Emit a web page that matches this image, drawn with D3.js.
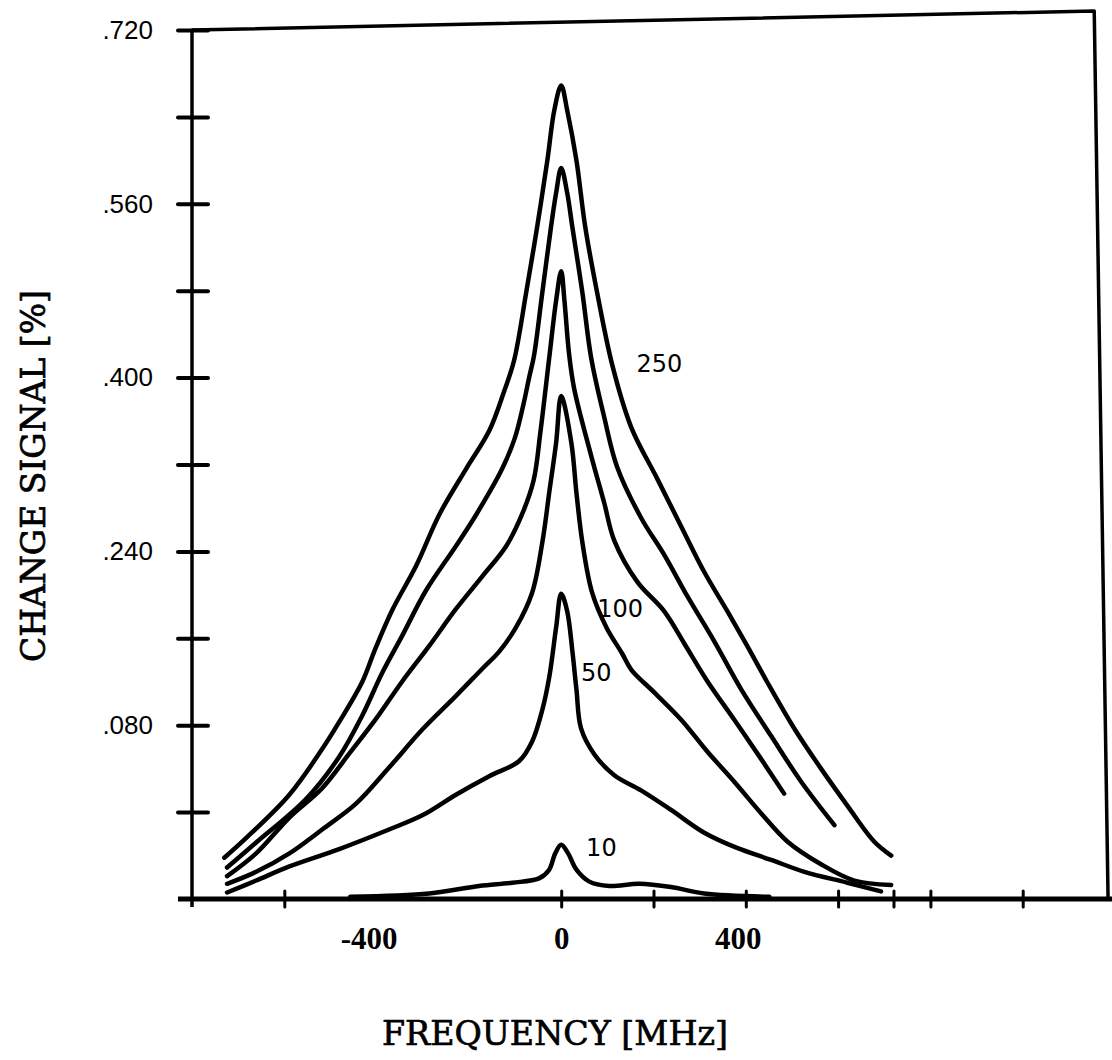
<!DOCTYPE html>
<html>
<head>
<meta charset="utf-8">
<script src="https://cdn.jsdelivr.net/npm/d3@7"></script>
<style>
  html, body { margin: 0; padding: 0; background: #fff; }
  svg { display: block; }
</style>
</head>
<body>
<div id="chart"></div>
<script>
// change signal [%] vs frequency [MHz], one trace per power level
const curve250 = [[-730,-0.042],[-683,-0.024],[-589,0.016],[-518,0.058],[-481,0.083],[-431,0.120],[-405,0.148],[-366,0.186],[-314,0.227],[-264,0.274],[-206,0.316],[-156,0.351],[-124,0.387],[-102,0.416],[-76,0.478],[-52,0.539],[-30,0.600],[-15,0.646],[0,0.669],[13,0.646],[33,0.600],[52,0.539],[78,0.478],[111,0.411],[152,0.354],[208,0.307],[260,0.263],[310,0.221],[360,0.185],[403,0.153],[446,0.120],[505,0.077],[563,0.040],[620,0.006],[678,-0.027],[715,-0.040]];
const curve200 = [[-724,-0.051],[-661,-0.028],[-553,0.012],[-481,0.051],[-431,0.089],[-388,0.128],[-345,0.162],[-293,0.204],[-228,0.245],[-184,0.274],[-128,0.316],[-100,0.345],[-82,0.375],[-69,0.401],[-59,0.420],[-41,0.478],[-22,0.539],[-11,0.570],[0,0.593],[13,0.570],[24,0.539],[46,0.478],[65,0.418],[93,0.364],[121,0.318],[173,0.271],[223,0.237],[273,0.199],[332,0.157],[390,0.113],[455,0.070],[520,0.028],[592,-0.012]];
const curve150 = [[-724,-0.059],[-661,-0.038],[-589,-0.005],[-518,0.022],[-459,0.054],[-401,0.086],[-345,0.120],[-286,0.153],[-228,0.187],[-171,0.217],[-119,0.245],[-85,0.274],[-60,0.305],[-45,0.350],[-26,0.418],[-11,0.471],[0,0.498],[7,0.471],[17,0.422],[28,0.390],[65,0.328],[93,0.285],[115,0.250],[165,0.212],[223,0.185],[267,0.155],[316,0.121],[375,0.085],[433,0.049],[483,0.017]];
const curve100 = [[-724,-0.066],[-661,-0.055],[-589,-0.038],[-518,-0.016],[-444,0.008],[-373,0.041],[-301,0.076],[-228,0.107],[-171,0.132],[-134,0.148],[-98,0.170],[-63,0.202],[-41,0.248],[-26,0.294],[-11,0.340],[0,0.383],[22,0.340],[33,0.294],[46,0.248],[67,0.202],[98,0.170],[132,0.146],[152,0.131],[202,0.110],[260,0.085],[316,0.056],[375,0.028],[433,-0.001],[490,-0.027],[563,-0.048],[635,-0.063],[715,-0.067]];
const curve50 = [[-724,-0.074],[-661,-0.063],[-589,-0.050],[-481,-0.034],[-373,-0.016],[-301,-0.003],[-228,0.016],[-156,0.033],[-91,0.047],[-63,0.065],[-41,0.094],[-26,0.124],[-11,0.170],[0,0.201],[13,0.185],[24,0.149],[33,0.113],[43,0.077],[72,0.053],[115,0.034],[173,0.020],[238,0.002],[310,-0.019],[381,-0.033],[455,-0.044],[527,-0.055],[620,-0.065],[693,-0.073]];
const curve10 = [[-457,-0.078],[-286,-0.075],[-178,-0.068],[-106,-0.065],[-48,-0.061],[-26,-0.053],[-13,-0.038],[0,-0.030],[15,-0.038],[33,-0.053],[61,-0.064],[104,-0.068],[169,-0.066],[238,-0.069],[310,-0.075],[451,-0.078]];

// curve labels and where they sit (MHz, %)
const curveLabels = ['250', '100', '50', '10'];
const labelAt = [[163, 0.405], [78, 0.180], [43, 0.121], [54, -0.040]];

const yTicks = [-0.08, 0, 0.08, 0.16, 0.24, 0.32, 0.40, 0.48, 0.56, 0.64, 0.72];
const yLabelled = [0.72, 0.56, 0.40, 0.24, 0.08];
const xTicks = [-600, 0, 200, 400, 600, 720, 800, 1000];
const xLabelled = [-400, 0, 400];

const W = 1112, H = 1060;
const svg = d3.select('#chart').append('svg').attr('width', W).attr('height', H);
svg.append('rect').attr('width', W).attr('height', H).attr('fill', '#fff');

const x = d3.scaleLinear().domain([-800, 1200]).range([192, 1115]);
const y = d3.scaleLinear().domain([-0.08, 0.72]).range([899, 30]);

// frame (scan is slightly skewed)
svg.append('path')
  .attr('d', `M${x(-800)},${y(0.72)} L${x(1155)},${y(0.7375)} L${x(1185)},${y(-0.08)}`)
  .attr('fill', 'none').attr('stroke', '#000').attr('stroke-width', 3.5).attr('stroke-linejoin', 'round');

// y axis: ticks cross the line, so draw both sides
const fmtY = d => yLabelled.some(v => Math.abs(v - d) < 1e-9) ? '.' + d3.format('.3f')(d).split('.')[1] : '';
const gyL = svg.append('g').attr('transform', `translate(${x(-800)},0)`)
  .call(d3.axisLeft(y).tickValues(yTicks).tickSize(14).tickPadding(25).tickFormat(fmtY));
const gyR = svg.append('g').attr('transform', `translate(${x(-800)},0)`)
  .call(d3.axisRight(y).tickValues(yTicks.filter(v => v > -0.08)).tickSize(16).tickFormat(''));
[gyL, gyR].forEach(g => {
  g.select('.domain').remove();
  g.selectAll('.tick line').attr('stroke', '#000').attr('stroke-width', 4).attr('stroke-linecap', 'round');
});
gyL.select('.tick line').remove();
gyL.selectAll('.tick text').attr('fill', '#000')
  .attr('font-family', '"Liberation Sans", Arial, sans-serif').attr('font-size', 26);

svg.append('line')
  .attr('x1', x(-800)).attr('x2', x(-800)).attr('y1', y(0.72)).attr('y2', y(-0.08) + 8)
  .attr('stroke', '#000').attr('stroke-width', 3.5);

// x axis
const gxB = svg.append('g').attr('transform', `translate(0,${y(-0.08)})`)
  .call(d3.axisBottom(x).tickValues(xTicks).tickSize(8).tickFormat(''));
const gxT = svg.append('g').attr('transform', `translate(0,${y(-0.08)})`)
  .call(d3.axisTop(x).tickValues(xTicks).tickSize(8).tickFormat(''));
[gxB, gxT].forEach(g => {
  g.select('.domain').remove();
  g.selectAll('.tick line').attr('stroke', '#000').attr('stroke-width', 3).attr('stroke-linecap', 'round');
});
const gxL = svg.append('g').attr('transform', `translate(0,${y(-0.08)})`)
  .call(d3.axisBottom(x).tickValues(xLabelled).tickSize(0).tickPadding(28).tickFormat(d => String(d)));
gxL.select('.domain').remove();
gxL.selectAll('.tick text').attr('fill', '#000')
  .attr('font-family', '"Liberation Serif", "Times New Roman", serif').attr('font-weight', 'bold')
  .attr('font-size', 31).attr('dx', d => d === 0 ? 0 : -8);

svg.append('line')
  .attr('x1', x(-800) - 14).attr('x2', W).attr('y1', y(-0.08)).attr('y2', y(-0.08))
  .attr('stroke', '#000').attr('stroke-width', 5);

// traces
const series = [curve250, curve200, curve150, curve100, curve50, curve10];
const line = d3.line().x(d => x(d[0])).y(d => y(d[1])).curve(d3.curveCatmullRom.alpha(0.5));
svg.append('g').selectAll('path').data(series).join('path')
  .attr('d', line)
  .attr('fill', 'none').attr('stroke', '#000').attr('stroke-width', 4.5)
  .attr('stroke-linecap', 'round').attr('stroke-linejoin', 'round');

svg.append('g').selectAll('text').data(curveLabels).join('text')
  .attr('x', (d, i) => x(labelAt[i][0])).attr('y', (d, i) => y(labelAt[i][1]))
  .attr('font-family', '"DejaVu Sans", Verdana, sans-serif').attr('font-size', 24)
  .attr('fill', '#000').text(d => d);

// axis titles
svg.append('text')
  .attr('transform', `translate(45,${(290 + 662) / 2}) rotate(-90)`)
  .attr('text-anchor', 'middle')
  .attr('font-family', '"DejaVu Serif", serif').attr('font-size', 33)
  .attr('textLength', 372).attr('lengthAdjust', 'spacingAndGlyphs')
  .attr('fill', '#000').attr('stroke', '#000').attr('stroke-width', 0.7)
  .text('CHANGE SIGNAL [%]');

svg.append('text')
  .attr('x', 555).attr('y', 1045).attr('text-anchor', 'middle')
  .attr('font-family', '"DejaVu Serif", serif').attr('font-size', 33)
  .attr('textLength', 346).attr('lengthAdjust', 'spacingAndGlyphs')
  .attr('fill', '#000').attr('stroke', '#000').attr('stroke-width', 0.7)
  .text('FREQUENCY [MHz]');
</script>
</body>
</html>
